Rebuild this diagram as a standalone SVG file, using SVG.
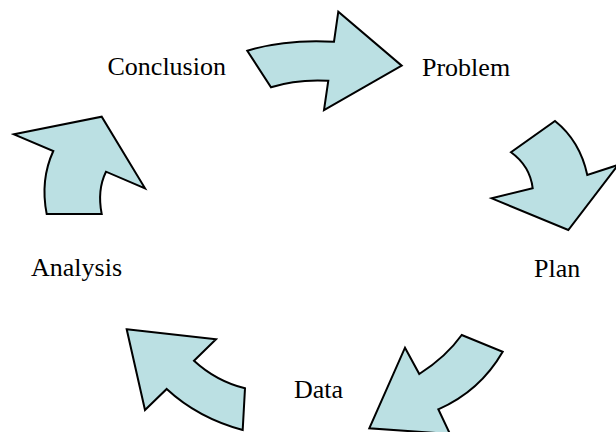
<svg xmlns="http://www.w3.org/2000/svg" width="616" height="432" viewBox="0 0 616 432">
<style>
.arr{fill:#BBE0E3;stroke:#000;stroke-width:2;stroke-linejoin:miter}
.lbl{font-family:"Liberation Serif","Times New Roman",serif;font-size:26px;fill:#000}
</style>
<rect width="616" height="432" fill="#fff"/>
<g id="connectors">
<path id="arrow-top" class="arr" d="M247.3,50.7 Q285,39 334,41.7 L338.3,11.7 L401.7,65.7 L324,110 L328.3,80.7 Q296,79 271,87.3 Z"/>
<path id="arrow-right" class="arr" d="M555,121 Q580,141 587.3,175 L618,165 L568.3,230 L491.7,198.3 L532.7,188.3 Q530,166 511,152.3 Z"/>
<path id="arrow-bottom-right" class="arr" d="M461.7,335 L502.7,351.7 Q480,391 438.3,409.3 L450,434 L369.3,428.3 L405,347.7 L419.3,374 Q446,357 461.7,335 Z"/>
<path id="arrow-bottom-left" class="arr" d="M126.7,329.3 L216,339.3 L194,360.7 Q216,381 245,388.3 L242.7,430 Q198,418 166.7,389 L145,410 Z"/>
<path id="arrow-left" class="arr" d="M14,134.3 L101.7,116.7 L145,188.3 L106,171.7 Q97,190 101.7,214 L46.7,214 Q40,180 53.3,151 Z"/>
</g>
<g id="node-conclusion"><text class="lbl" x="107.5" y="75">Conclusion</text></g>
<g id="node-problem"><text class="lbl" x="422" y="76">Problem</text></g>
<g id="node-plan"><text class="lbl" x="534" y="277">Plan</text></g>
<g id="node-data"><text class="lbl" x="294" y="398">Data</text></g>
<g id="node-analysis"><text class="lbl" x="31" y="276">Analysis</text></g>
</svg>
